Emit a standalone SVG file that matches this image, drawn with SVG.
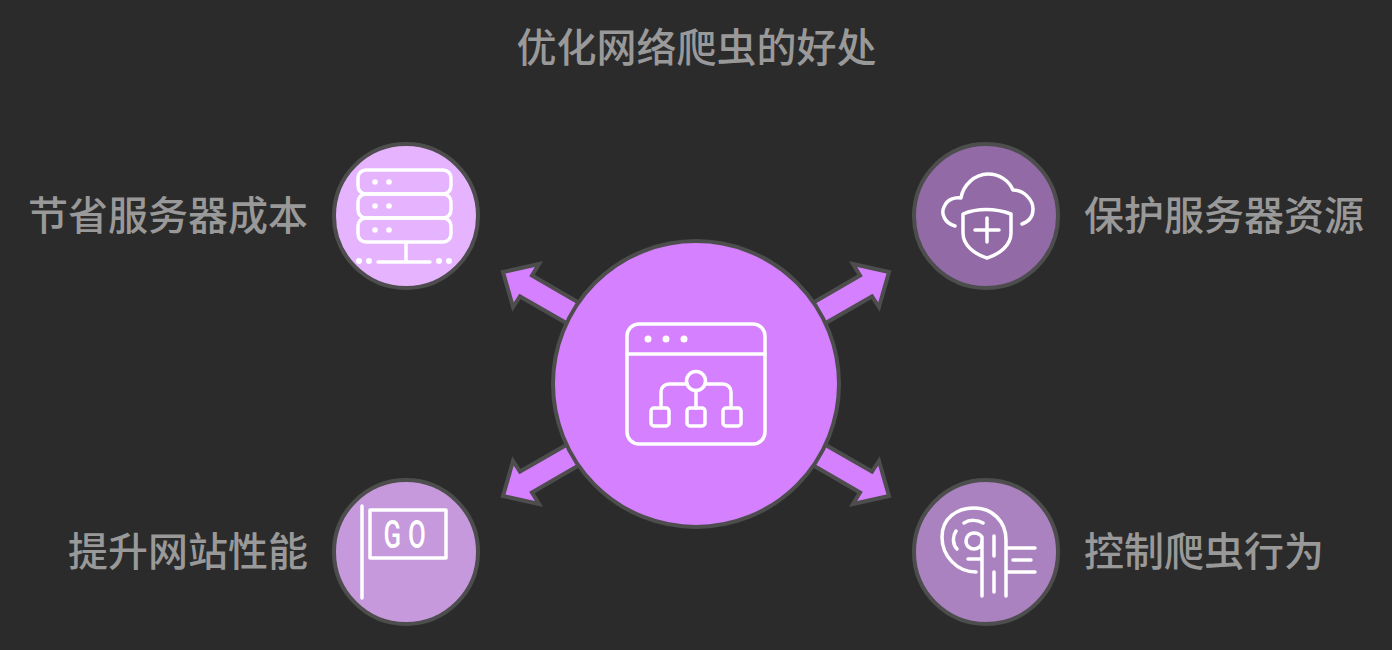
<svg xmlns="http://www.w3.org/2000/svg" width="1392" height="650" viewBox="0 0 1392 650">
<style>
text{font-family:"Noto Sans CJK SC","Noto Sans",sans-serif;font-size:40px;font-weight:500;fill:#999999;opacity:.999}
.n{stroke:#4d4d4d;stroke-width:4}
.i{fill:none;stroke:#fff;stroke-width:3.500;stroke-linecap:round;stroke-linejoin:round}
.d{fill:#fff}
.a{fill:#d580ff;stroke:#4d4d4d;stroke-width:4;stroke-linejoin:miter}
</style>
<defs>
<polygon id="ah" points="503,272 539,264 532,275.500 601,315.500 589,336 520,296.500 513,307"/>
</defs>
<rect width="1392" height="650" fill="#2b2b2b"/>
<text x="696.500" y="62" text-anchor="middle">优化网络爬虫的好处</text>
<g id="connectors">
<use href="#ah" class="a"/>
<use href="#ah" class="a" transform="matrix(-1 0 0 1 1392 0)"/>
<use href="#ah" class="a" transform="matrix(1 0 0 -1 0 768)"/>
<use href="#ah" class="a" transform="matrix(-1 0 0 -1 1392 768)"/>
</g>
<g id="center">
<circle class="n" cx="696" cy="384" r="143" fill="#d580ff"/>
<rect class="i" x="627" y="324" width="138" height="120" rx="12"/>
<path class="i" d="M627 354H765"/>
<circle class="d" cx="648" cy="339" r="3.500"/><circle class="d" cx="666" cy="339" r="3.500"/><circle class="d" cx="684" cy="339" r="3.500"/>
<circle class="i" cx="696" cy="381" r="9.500"/>
<path class="i" d="M687 384H669a8 8 0 0 0-8 8v16M705 384h18a8 8 0 0 1 8 8v16M696 390.500V408"/>
<rect class="i" x="651" y="408" width="18" height="18" rx="3"/>
<rect class="i" x="687" y="408" width="18" height="18" rx="3"/>
<rect class="i" x="723" y="408" width="18" height="18" rx="3"/>
</g>
<g id="node-save">
<circle class="n" cx="406" cy="216" r="72" fill="#e6b3ff"/>
<rect class="i" x="358" y="170" width="93" height="24" rx="8"/>
<rect class="i" x="358" y="194" width="93" height="24" rx="8"/>
<rect class="i" x="358" y="218" width="93" height="24" rx="8"/>
<circle class="d" cx="375" cy="182" r="2.800"/><circle class="d" cx="389" cy="182" r="2.800"/>
<circle class="d" cx="375" cy="206" r="2.800"/><circle class="d" cx="389" cy="206" r="2.800"/>
<circle class="d" cx="375" cy="230" r="2.800"/><circle class="d" cx="389" cy="230" r="2.800"/>
<path class="i" d="M406 243V261M378 262H430"/>
<circle class="d" cx="359" cy="261" r="3"/><circle class="d" cx="369" cy="261" r="3"/><circle class="d" cx="439" cy="261" r="3"/><circle class="d" cx="449" cy="261" r="3"/>
<text x="308" y="230" text-anchor="end">节省服务器成本</text>
</g>
<g id="node-protect">
<circle class="n" cx="986" cy="216" r="72" fill="#916aa6"/>
<path class="i" d="M955 226C944 223 941 213 944 207C947 199 955 197 961 198C963 185 975 174 988 174C1000 174 1009 181 1013 190C1024 190 1033 200 1033 209C1033 217 1028 222 1022 224"/>
<path class="i" d="M963 214C977 208 995 208 1011 214V233C1011 245 1000 254 987 258C974 254 963 245 963 233Z"/>
<path class="i" d="M987 218V242M975 230H999"/>
<text x="1084" y="230">保护服务器资源</text>
</g>
<g id="node-improve">
<circle class="n" cx="406" cy="552" r="72" fill="#c599db"/>
<path class="i" d="M362 506V598"/>
<rect class="i" x="370" y="510" width="76" height="48"/>
<text transform="translate(408 548) scale(.68 1)" text-anchor="middle" style="font-family:'Roboto',sans-serif;font-size:38px;font-weight:500;fill:#fff;letter-spacing:10px">GO</text>
<text x="308" y="566" text-anchor="end">提升网站性能</text>
</g>
<g id="node-control">
<circle class="n" cx="986" cy="552" r="72" fill="#ab82c0"/>
<path class="i" d="M976 572C957 572 942 556 942 537C942 518 957 508 974 508C992 508 1006 521 1006 540V596"/>
<path class="i" d="M964 523C970 519 978 520 983 523M956 531C952 537 953 545 957 549M982 537C980 534 977 533 974 533C969 533 966 537 966 541C966 546 970 549 974 549C978 549 982 546 982 541M982 537V596M968 559H982M994 536V556M994 572V592M1007 548H1035M1007 572H1035M1013 560H1031"/>
<text x="1084" y="566">控制爬虫行为</text>
</g>
</svg>
